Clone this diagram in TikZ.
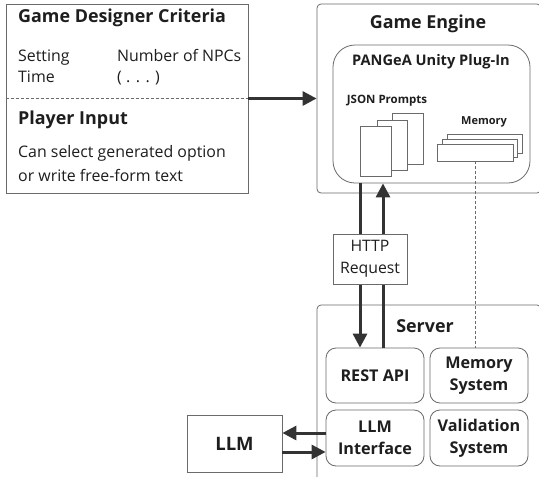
\documentclass[tikz,border=0pt]{standalone}
\usepackage{fontspec}
\setmainfont{Open Sans}
\usetikzlibrary{arrows.meta}
\definecolor{boxgray}{HTML}{6A6A6A}
\definecolor{linegray}{HTML}{333333}
\definecolor{txt}{HTML}{1E1E1E}
\newcommand{\heading}[1]{{\fontsize{17.9}{20}\selectfont\bfseries #1}}

\begin{document}
\begin{tikzpicture}[x=1pt,y=-1pt,text=txt,
    box/.style={draw=boxgray,line width=0.8pt,fill=white,inner sep=0pt},
    part/.style={box,rounded corners=10pt,align=center,
      font=\fontsize{16.2}{22}\selectfont\bfseries},
    sheet/.style={box,line width=0.7pt},
    label/.style={anchor=base west,inner sep=0pt,font=\fontsize{15.9}{18}\selectfont},
    flow/.style={draw=linegray,line width=3pt,-{Triangle[length=14pt,width=14pt]}},
    thin/.style={draw=boxgray,line width=0.6pt,dash pattern=on 3pt off 2pt}]
    \path[use as bounding box,clip] (0,0) rectangle (539,477);

    \node[box,minimum width=242pt,minimum height=189pt] (designer) at (127,98.5) {};
    \node[label] (crit) at (18,22) {\heading{Game Designer Criteria}};
    \node[label] (setting) at (18,61) {Setting};
    \node[label] (time) at (18,82) {Time};
    \node[label] (npcs) at (117,61) {Number of NPCs};
    \node[label] (etc) at (117,82) {( . . . )};
    \node[label] (player) at (18,124) {\heading{Player Input}};
    \node[label] (select) at (18,157) {Can select generated option};
    \node[label] (write) at (18,181) {or write free-form text};
    \draw[thin] (designer.west) -- (designer.east);

    \node[box,rounded corners=4pt,minimum width=224pt,minimum height=189pt] (engine) at (429,98.5) {};
    \node[anchor=base,inner sep=0pt] (enginetitle) at (428,28) {\heading{Game Engine}};
    \node[box,rounded corners=22pt,minimum width=197pt,minimum height=138pt] (plugin) at (431.5,114) {};
    \node[anchor=base,inner sep=0pt,font=\fontsize{14.6}{17}\selectfont\bfseries] (plugintitle) at (431,65) {PANGeA Unity Plug-In};
    \node[anchor=base,inner sep=0pt,font=\fontsize{11.5}{13}\selectfont\bfseries] (json) at (387,103) {JSON Prompts};
    \node[anchor=base,inner sep=0pt,font=\fontsize{11}{13}\selectfont\bfseries] (memory) at (484,124) {Memory};
    \node[sheet,minimum width=31pt,minimum height=51pt] (pagec) at (407.5,138.5) {};
    \node[sheet,minimum width=30pt,minimum height=50pt] (pageb) at (392,145) {};
    \node[sheet,minimum width=31pt,minimum height=50pt] (pagea) at (375.5,151) {};
    \node[sheet,minimum width=75pt,minimum height=19pt] (memc) at (484.5,143.5) {};
    \node[sheet,minimum width=75pt,minimum height=18pt] (memb) at (479.5,148) {};
    \node[sheet,minimum width=76pt,minimum height=17pt] (mema) at (475,152.5) {};

    \draw[flow] (designer.east) -- (engine.west);

    \node[box,rounded corners=4pt,minimum width=224pt,minimum height=185pt] (server) at (429,397.5) {};
    \node[anchor=base,inner sep=0pt] (servertitle) at (425,332) {\heading{Server}};
    \node[part,minimum width=98pt,minimum height=55pt] (rest) at (375,375.5) {REST API};
    \node[part,minimum width=98pt,minimum height=55pt] (memsys) at (479,375.5) {Memory\\System};
    \node[part,minimum width=98pt,minimum height=56pt] (llmif) at (375,438) {LLM\\Interface};
    \node[part,minimum width=98pt,minimum height=56pt] (valid) at (479,438) {Validation\\System};

    \draw[thin] (mema.south) -- (mema.south |- memsys.north);

    \draw[flow] ([xshift=-15pt]rest.north |- plugin.south) -- ([xshift=-15pt]rest.north);
    \draw[flow] ([xshift=8pt]rest.north) -- ([xshift=8pt]rest.north |- plugin.south);
    \node[box,minimum width=74pt,minimum height=50pt,align=center,
      font=\fontsize{15.8}{22}\selectfont] (http) at (370,259) {HTTP\\Request};

    \node[box,minimum width=95pt,minimum height=57pt,font=\fontsize{18.5}{20}\selectfont\bfseries] (llm) at (234.5,443.5) {LLM};
    \draw[flow] ([yshift=5pt]llmif.west) -- ([yshift=5pt]llmif.west -| llm.east);
    \draw[flow] ([yshift=-8.5pt]llm.east) -- ([yshift=-8.5pt]llm.east -| llmif.west);
\end{tikzpicture}
\end{document}
